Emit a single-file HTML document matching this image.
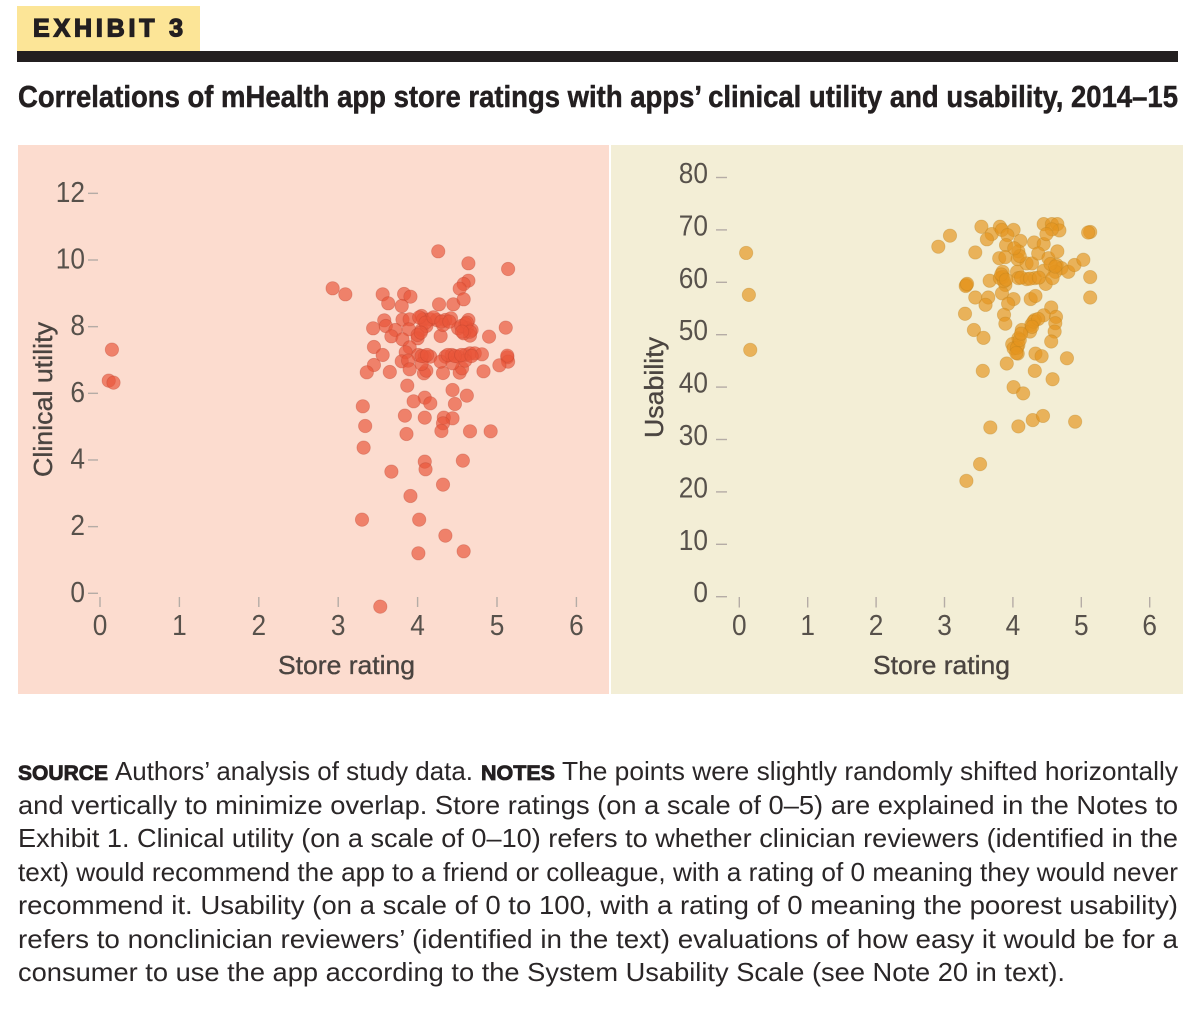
<!DOCTYPE html>
<html lang="en">
<head>
<meta charset="utf-8">
<title>Exhibit 3</title>
<style>
html,body{margin:0;padding:0;background:#fff}
svg{display:block}
text{font-family:"Liberation Sans",sans-serif}
.body{font-size:26px;fill:#2a2627}
.lead{font-size:21px;font-weight:bold;fill:#231f20;stroke:#231f20;stroke-width:.8}
.tick{font-size:29px;fill:#57514b}
.axis{font-size:26px;fill:#4a4440;stroke:#4a4440;stroke-width:.35}
</style>
</head>
<body>
<svg id="root" xmlns="http://www.w3.org/2000/svg" width="1200" height="1017" viewBox="0 0 1200 1017">
<rect x="0" y="0" width="1200" height="1017" fill="#fff"/>
<rect x="17" y="6" width="183" height="46" fill="#fce597"/>
<text x="33" y="36.5" font-size="25" font-weight="bold" fill="#231f20" stroke="#231f20" stroke-width="1.3" textLength="150" lengthAdjust="spacing">EXHIBIT 3</text>
<rect x="17" y="51" width="1161" height="11" fill="#231f20"/>
<text x="18" y="107" font-size="31" font-weight="bold" fill="#231f20" stroke="#231f20" stroke-width="0.5" textLength="1160" lengthAdjust="spacingAndGlyphs">Correlations of mHealth app store ratings with apps’ clinical utility and usability, 2014–15</text>
<rect x="18" y="145" width="591" height="549" fill="#fcdccf"/>
<rect x="611" y="145" width="572" height="549" fill="#f3eed6"/>
<g id="left-chart"></g>
<g id="right-chart"></g>
<text x="278" y="674" class="axis" textLength="137" lengthAdjust="spacingAndGlyphs">Store rating</text>
<text x="873" y="674" class="axis" textLength="137" lengthAdjust="spacingAndGlyphs">Store rating</text>
<text transform="translate(52,477) rotate(-90)" class="axis" textLength="155" lengthAdjust="spacingAndGlyphs">Clinical utility</text>
<text transform="translate(663,438) rotate(-90)" class="axis" textLength="101" lengthAdjust="spacingAndGlyphs">Usability</text>
<g>
<text x="18" y="780" class="lead" textLength="90" lengthAdjust="spacingAndGlyphs">SOURCE</text>
<text x="115" y="780" class="body" textLength="358" lengthAdjust="spacingAndGlyphs">Authors’ analysis of study data.</text>
<text x="481" y="780" class="lead" textLength="74" lengthAdjust="spacingAndGlyphs">NOTES</text>
<text x="562" y="780" class="body" textLength="616" lengthAdjust="spacingAndGlyphs">The points were slightly randomly shifted horizontally</text>
<text x="18" y="814" class="body" textLength="1160" lengthAdjust="spacingAndGlyphs">and vertically to minimize overlap. Store ratings (on a scale of 0–5) are explained in the Notes to</text>
<text x="18" y="847" class="body" textLength="1160" lengthAdjust="spacingAndGlyphs">Exhibit 1. Clinical utility (on a scale of 0–10) refers to whether clinician reviewers (identified in the</text>
<text x="18" y="881" class="body" textLength="1160" lengthAdjust="spacingAndGlyphs">text) would recommend the app to a friend or colleague, with a rating of 0 meaning they would never</text>
<text x="18" y="914" class="body" textLength="1160" lengthAdjust="spacingAndGlyphs">recommend it. Usability (on a scale of 0 to 100, with a rating of 0 meaning the poorest usability)</text>
<text x="18" y="948" class="body" textLength="1160" lengthAdjust="spacingAndGlyphs">refers to nonclinician reviewers’ (identified in the text) evaluations of how easy it would be for a</text>
<text x="18" y="981" class="body" textLength="1047" lengthAdjust="spacingAndGlyphs">consumer to use the app according to the System Usability Scale (see Note 20 in text).</text>
</g>
</svg>
<script>
var xTickValues = [0, 1, 2, 3, 4, 5, 6];
var clinicalTickValues = [0, 2, 4, 6, 8, 10, 12];
var usabilityTickValues = [0, 10, 20, 30, 40, 50, 60, 70, 80];

var clinicalStoreRating = [
0.15,0.11,0.17,4.26,4.64,5.14,4.64,4.58,4.53,2.93,
3.09,3.56,3.83,3.91,3.63,3.80,4.27,4.45,4.58,4.05,
4.07,4.16,4.24,4.35,4.42,4.64,4.60,3.58,3.81,3.90,
3.44,3.60,3.72,3.89,3.67,3.81,4.05,4.11,4.00,4.29,
4.32,4.51,4.62,4.68,4.66,4.58,4.90,5.11,3.45,3.56,
3.90,3.85,4.01,4.09,4.16,4.35,4.43,4.51,4.60,4.66,
4.72,4.81,5.13,5.14,5.03,3.45,3.36,3.65,3.80,3.88,
3.90,4.08,4.11,4.32,4.53,4.56,4.83,4.29,4.44,4.60,
4.05,3.87,4.44,4.62,4.09,3.95,4.16,4.47,3.31,3.84,
4.09,4.33,4.44,4.32,3.34,4.30,3.86,4.66,4.92,3.32,
4.09,4.57,4.10,3.67,4.32,3.91,3.30,4.02,4.35,4.58,
4.01,3.53,
4.02,4.10,4.20,4.30,4.40,4.55,4.62,4.66,4.56,4.00,
4.04,4.05,4.12,4.38,4.47,4.55,4.68,5.13];
var clinicalUtility = [
7.31,6.38,6.32,10.26,9.90,9.73,9.38,9.28,9.14,9.15,
8.97,8.97,8.98,8.90,8.70,8.62,8.67,8.67,8.82,8.32,
8.22,8.22,8.20,8.20,8.25,8.20,8.08,8.19,8.21,8.22,
7.95,8.02,7.90,7.92,7.71,7.62,7.90,8.02,7.65,7.72,
8.05,7.95,7.95,7.90,7.73,7.80,7.70,7.97,7.39,7.15,
7.38,7.23,7.15,7.10,7.10,7.10,7.15,7.10,7.15,7.20,
7.20,7.17,7.08,6.95,6.84,6.85,6.63,6.64,6.96,6.98,
6.72,6.60,6.68,6.61,6.62,6.75,6.66,6.95,6.90,6.98,
6.88,6.23,6.10,5.93,5.87,5.76,5.70,5.68,5.61,5.33,
5.27,5.27,5.25,5.10,5.02,4.87,4.78,4.86,4.86,4.37,
3.95,3.98,3.72,3.65,3.26,2.92,2.21,2.21,1.73,1.26,
1.20,-0.40,
8.28,8.12,8.28,8.15,8.15,8.02,8.12,7.85,7.85,7.75,
7.82,7.12,7.15,7.15,7.12,7.15,7.12,7.13];

var usabilityStoreRating = [
0.10,0.14,0.16,3.08,2.91,3.45,3.54,3.81,3.69,3.62,
3.84,4.01,3.92,3.90,4.11,4.31,4.45,4.45,4.57,4.65,
4.68,4.57,4.49,5.13,5.10,3.80,3.89,4.08,4.07,4.20,
4.28,4.37,4.52,4.65,4.64,4.71,4.81,4.90,5.03,4.62,
5.13,5.13,3.66,3.85,3.81,3.89,3.84,4.06,4.08,4.20,
4.32,4.45,4.48,4.58,3.32,3.31,3.45,3.64,3.60,4.01,
3.93,4.26,4.33,3.30,4.56,4.63,4.45,4.32,4.27,4.62,
4.61,4.56,3.87,3.89,3.43,3.57,4.13,4.25,4.08,3.99,
4.08,4.07,4.01,4.33,4.42,4.79,3.91,3.56,4.32,4.58,
4.01,4.15,3.67,4.08,4.29,4.44,4.91,3.52,3.32,
3.85,3.87,3.83,3.90,4.12,4.25,4.38,4.30,4.37,4.28,
4.06,4.10,4.05,4.12,4.55,4.62,3.33,4.10,4.02];
var usabilityScore = [
65.6,57.6,47.1,68.9,66.8,65.7,70.6,70.6,69.2,68.2,
70.0,70.0,69.0,67.1,67.9,67.6,67.3,71.1,71.1,71.1,
69.9,70.1,69.2,69.6,69.5,64.6,64.8,65.9,64.4,63.6,
63.6,65.5,64.6,65.9,63.3,62.7,62.0,63.3,64.3,62.0,
61.0,57.1,60.3,62.0,60.8,59.5,57.9,62.0,60.8,60.6,
60.8,62.2,59.7,60.8,59.5,59.3,57.1,57.1,55.7,56.8,
55.9,56.8,57.4,54.0,55.2,53.4,53.7,52.8,51.9,52.2,
50.6,48.7,53.8,52.1,50.9,49.4,50.9,50.6,49.3,48.2,
48.0,46.4,47.4,46.4,45.9,45.5,44.5,43.1,43.1,41.5,
40.0,38.8,32.3,32.5,33.7,34.5,33.4,25.3,22.1,
61.0,60.2,61.5,60.5,60.9,60.7,60.9,52.5,53.0,51.5,
47.5,49.0,46.5,50.2,63.5,63.0,59.7,65.0,66.5];

var SVG_NS = 'http://www.w3.org/2000/svg';

function leftX(v) { return 100 + v * 79.4; }
function leftY(v) { return 593.3 - v * 33.33; }
function rightX(v) { return 739.3 + v * 68.4; }
function rightY(v) { return 596.7 - v * 5.24; }

function drawTickLabel(parent, x, y, anchor, label) {
  var t = document.createElementNS(SVG_NS, 'text');
  t.setAttribute('x', x);
  t.setAttribute('y', y);
  t.setAttribute('class', 'tick');
  t.setAttribute('text-anchor', anchor);
  t.setAttribute('textLength', String(label).length * 14.6);
  t.setAttribute('lengthAdjust', 'spacingAndGlyphs');
  
  
  t.textContent = label;
  parent.appendChild(t);
}

function drawTickMark(parent, x1, y1, x2, y2) {
  var l = document.createElementNS(SVG_NS, 'line');
  l.setAttribute('x1', x1);
  l.setAttribute('y1', y1);
  l.setAttribute('x2', x2);
  l.setAttribute('y2', y2);
  l.setAttribute('stroke', '#b5aca6');
  l.setAttribute('stroke-width', '1.4');
  
  
  parent.appendChild(l);
}

function drawPoint(parent, cx, cy, fill, rim) {
  var c = document.createElementNS(SVG_NS, 'circle');
  c.setAttribute('cx', cx);
  c.setAttribute('cy', cy);
  c.setAttribute('r', '6.7');
  c.setAttribute('fill', fill);
  c.setAttribute('fill-opacity', '0.68');
  c.setAttribute('stroke', rim);
  c.setAttribute('stroke-opacity', '0.35');
  c.setAttribute('stroke-width', '0.8');
  
  
  parent.appendChild(c);
}

var leftChart = document.getElementById('left-chart');
var rightChart = document.getElementById('right-chart');

xTickValues.forEach(function (v) {
  drawTickMark(leftChart, leftX(v), 597, leftX(v), 607);
  drawTickLabel(leftChart, leftX(v), 635, 'middle', v);
  drawTickMark(rightChart, rightX(v), 597, rightX(v), 607.5);
  drawTickLabel(rightChart, rightX(v), 635, 'middle', v);
});
clinicalTickValues.forEach(function (v) {
  drawTickMark(leftChart, 88, leftY(v), 98, leftY(v));
  drawTickLabel(leftChart, 85, leftY(v) + 8.5, 'end', v);
});
usabilityTickValues.forEach(function (v) {
  drawTickMark(rightChart, 716, rightY(v), 727, rightY(v));
  drawTickLabel(rightChart, 708, rightY(v) + 5.5, 'end', v);
});
clinicalStoreRating.forEach(function (v, i) {
  drawPoint(leftChart, leftX(v), leftY(clinicalUtility[i]), '#e9553a', '#b8432e');
});
usabilityStoreRating.forEach(function (v, i) {
  drawPoint(rightChart, rightX(v), rightY(usabilityScore[i]), '#e5951f', '#b8801f');
});
</script>
</body>
</html>
